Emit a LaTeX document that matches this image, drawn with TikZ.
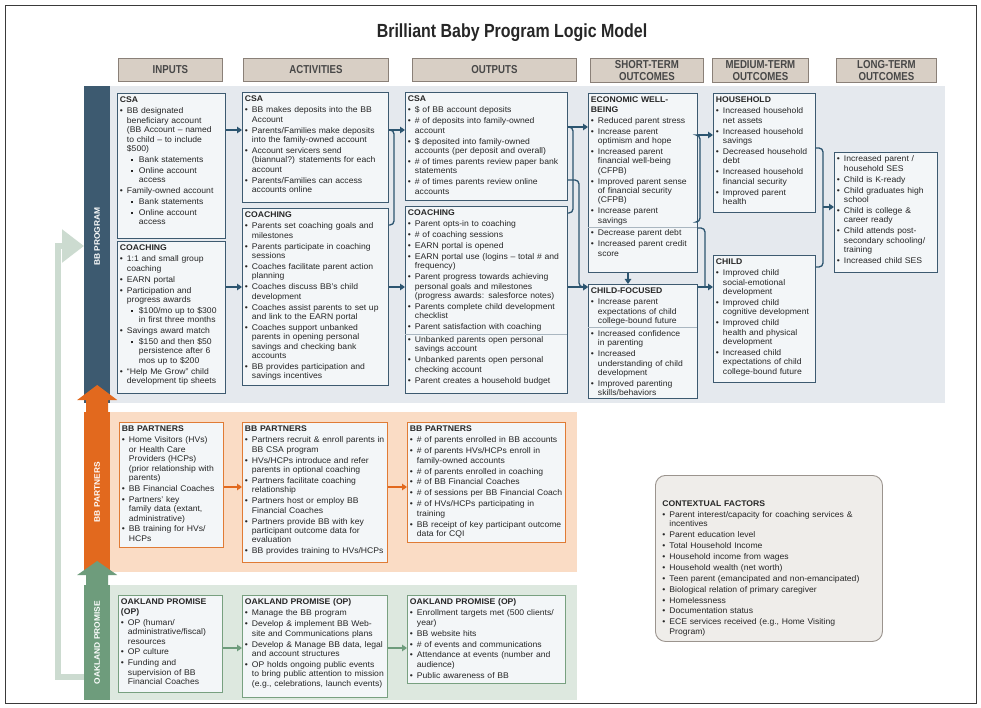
\documentclass[tikz,border=0pt]{standalone}
\usepackage{fontspec}
\setmainfont{Liberation Sans}[FakeStretch=1.05]
\newfontfamily\condfont{Liberation Sans}[FakeStretch=0.84]
\usetikzlibrary{arrows.meta}

\definecolor{ink}{HTML}{262626}
\definecolor{progdark}{HTML}{3D5A70}
\definecolor{progback}{HTML}{E5E9EE}
\definecolor{boxfill}{HTML}{F3F6F8}
\definecolor{connline}{HTML}{2C5570}
\definecolor{divline}{HTML}{A9B6C0}
\definecolor{partnerorange}{HTML}{E2691E}
\definecolor{partnerback}{HTML}{FADCC5}
\definecolor{partnerline}{HTML}{E07B35}
\definecolor{promisegreen}{HTML}{6E9C7C}
\definecolor{promiseback}{HTML}{DDE8DF}
\definecolor{promiseline}{HTML}{78A080}
\definecolor{headfill}{HTML}{D8CFC5}
\definecolor{headline}{HTML}{8A8078}
\definecolor{ctxfill}{HTML}{EFEDEA}
\definecolor{ctxline}{HTML}{9B948E}
\definecolor{palegreen}{HTML}{CCDBD0}
\definecolor{framegray}{HTML}{3A3A3A}

\newcommand\lb{\newline}
\newcommand\itm{\par\hangindent=7pt\hangafter=1\noindent\makebox[7pt][l]{\textbullet}}
\newcommand\itmf{\leavevmode\hangindent=7pt\hangafter=1\makebox[7pt][l]{\textbullet}}
\newcommand\sub{\par\hangindent=19pt\hangafter=1\noindent\hspace*{11pt}\makebox[8pt][l]{\raisebox{1.2pt}{\rule{2.4pt}{2.4pt}}}}
\newcommand\divl{\par\vspace{2pt}\nointerlineskip\moveleft2.5pt\hbox{\color{divline}\rule{\dimexpr\linewidth+5pt\relax}{0.6pt}}\prevdepth=-1000pt\vspace{1pt}}

\begin{document}
\begin{tikzpicture}[x=1pt,y=-1pt]
  \tikzstyle{every node}=[text=ink]
  \tikzstyle{lmbox}=[line width=0.9pt, fill=boxfill, anchor=north west, inner xsep=2.5pt, inner ysep=3pt,
    text height=6.5pt, font=\fontsize{8.2}{9.4}\selectfont,
    execute at begin node={\raggedright\setlength{\parskip}{1.5pt}}]
  \tikzstyle{prog}=[lmbox, draw=progdark]
  \tikzstyle{partner}=[lmbox, draw=partnerline]
  \tikzstyle{promise}=[lmbox, draw=promiseline]
  \tikzstyle{headbox}=[draw=headline, fill=headfill, line width=0.8pt, anchor=north west, inner sep=0pt,
    align=center, text=ink!85, font=\condfont\bfseries\fontsize{11.5}{11.5}\selectfont]
  \tikzstyle{bandbar}=[anchor=north west, inner sep=0pt, minimum width=26pt]
  \tikzstyle{bartext}=[rotate=90, text=white, font=\bfseries\fontsize{8}{9}\selectfont]
  \tikzstyle{conn}=[draw=connline, line width=1.3pt, -{Triangle[length=5pt,width=6.5pt]}]
  \tikzstyle{brk}=[draw=connline, line width=1.3pt, rounded corners=4pt]
  \tikzstyle{pconn}=[draw=partnerorange, line width=1.5pt, -{Triangle[length=5pt,width=6.5pt]}]
  \tikzstyle{gconn}=[draw=promisegreen, line width=1.5pt, -{Triangle[length=5pt,width=6.5pt]}]

  \useasboundingbox (0,0) rectangle (981,708);
  \fill[white] (0,0) rectangle (981,708);
  \draw[framegray, line width=0.8pt] (5,5) rectangle (976,703);

  \node[font=\condfont\bfseries\fontsize{19}{21}\selectfont] (title) at (512,33) {Brilliant Baby Program Logic Model};

  % column heads
  \node[headbox, minimum width=104pt, minimum height=23pt] (hin) at (118,58) {INPUTS};
  \node[headbox, minimum width=145pt, minimum height=23pt] (hact) at (243,58) {ACTIVITIES};
  \node[headbox, minimum width=164pt, minimum height=23pt] (hout) at (412,58) {OUTPUTS};
  \node[headbox, minimum width=113pt, minimum height=24pt] (hshort) at (590,58) {SHORT-TERM\\OUTCOMES};
  \node[headbox, minimum width=96pt, minimum height=24pt] (hmed) at (712,58) {MEDIUM-TERM\\OUTCOMES};
  \node[headbox, minimum width=100pt, minimum height=24pt] (hlong) at (836,58) {LONG-TERM\\OUTCOMES};

  % bands
  \fill[progback] (84,86) rectangle (945,403);
  \fill[partnerback] (84,412) rectangle (577,572);
  \fill[promiseback] (84,585) rectangle (577,700);
  \node[bandbar, fill=progdark, minimum height=317pt] (progbar) at (84,86) {};
  \node[bandbar, fill=partnerorange, minimum height=160pt] (partnerbar) at (84,412) {};
  \node[bandbar, fill=promisegreen, minimum height=115pt] (promisebar) at (84,585) {};
  \draw[palegreen, line width=6pt, -{Triangle[length=22pt,width=32pt]}] (promisebar.west |- 0,677) -- (58,677) -- (58,246) -- (progbar.west |- 0,246);
  \fill[partnerorange] (partnerbar.north) ++(-11,0) -- ++(0,-12) -- ++(-9,0) -- ++(20,-15) -- ++(20,15) -- ++(-9,0) -- ++(0,12) -- cycle;
  \fill[promisegreen] (promisebar.north) ++(-11,0) -- ++(0,-10) -- ++(-9,0) -- ++(20,-14) -- ++(20,14) -- ++(-9,0) -- ++(0,10) -- cycle;
  \node[bartext] (proglab) at ([yshift=8pt]progbar.center) {BB PROGRAM};
  \node[bartext] (partnerlab) at (partnerbar.center) {BB PARTNERS};
  \node[bartext] (promiselab) at (promisebar.center) {OAKLAND PROMISE};

  % BB program
  \node[prog, text width=103pt, text depth=132.5pt] (incsa) at (117,93) {\textbf{CSA}
    \itm BB designated\lb beneficiary account\lb (BB Account – named\lb to child – to include\lb \$500)
    \sub Bank statements
    \sub Online account\lb access
    \itm Family-owned account
    \sub Bank statements
    \sub Online account\lb access\par};
  \node[prog, text width=103pt, text depth=139.5pt] (incoach) at (117,241) {\textbf{COACHING}
    \itm 1:1 and small group\lb coaching
    \itm EARN portal
    \itm Participation and\lb progress awards
    \sub \$100/mo up to \$300\lb in first three months
    \itm Savings award match
    \sub \$150 and then \$50\lb persistence after 6\lb mos up to \$200
    \itm “Help Me Grow” child\lb development tip sheets\par};
  \node[prog, text width=141pt, text depth=97.5pt] (actcsa) at (242,92) {\textbf{CSA}
    \itm BB makes deposits into the BB\lb Account
    \itm Parents/Families make deposits\lb into the family-owned account
    \itm Account servicers send\lb (biannual?) statements for each\lb account
    \itm Parents/Families can access\lb accounts online\par};
  \node[prog, text width=141pt, text depth=164.5pt] (actcoach) at (242,208) {\textbf{COACHING}
    \itm Parents set coaching goals and\lb milestones
    \itm Parents participate in coaching\lb sessions
    \itm Coaches facilitate parent action\lb planning
    \itm Coaches discuss BB’s child\lb development
    \itm Coaches assist parents to set up\lb and link to the EARN portal
    \itm Coaches support unbanked\lb parents in opening personal\lb savings and checking bank\lb accounts
    \itm BB provides participation and\lb savings incentives\par};
  \node[prog, text width=157pt, text depth=95.5pt] (outcsa) at (405,92) {\textbf{CSA}
    \itm \$ of BB account deposits
    \itm \# of deposits into family-owned\lb account
    \itm \$ deposited into family-owned\lb accounts (per deposit and overall)
    \itm \# of times parents review paper bank\lb statements
    \itm \# of times parents review online\lb accounts\par};
  \node[prog, text width=157pt, text depth=174.5pt] (outcoach) at (405,206) {\textbf{COACHING}
    \itm Parent opts-in to coaching
    \itm \# of coaching sessions
    \itm EARN portal is opened
    \itm EARN portal use (logins – total \# and\lb frequency)
    \itm Parent progress towards achieving\lb personal goals and milestones\lb (progress awards: salesforce notes)
    \itm Parents complete child development\lb checklist
    \itm Parent satisfaction with coaching
    \divl
    \itm Unbanked parents open personal\lb savings account
    \itm Unbanked parents open personal\lb checking account
    \itm Parent creates a household budget\par};
  \node[prog, text width=104pt, text depth=166.5pt] (econ) at (588,93) {\textbf{ECONOMIC WELL-\lb BEING}
    \itm Reduced parent stress
    \itm Increase parent\lb optimism and hope
    \itm Increased parent\lb financial well-being\lb (CFPB)
    \itm Improved parent sense\lb of financial security\lb (CFPB)
    \itm Increase parent\lb savings
    \divl
    \itm Decrease parent debt
    \itm Increased parent credit\lb score\par};
  \node[prog, text width=104pt, text depth=101.5pt] (childfoc) at (588,284) {\textbf{CHILD-FOCUSED}
    \itm Increase parent\lb expectations of child\lb college-bound future
    \divl
    \itm Increased confidence\lb in parenting
    \itm Increased\lb understanding of child\lb development
    \itm Improved parenting\lb skills/behaviors\par};
  \node[prog, text width=97pt, text depth=106.5pt] (household) at (713,93) {\textbf{HOUSEHOLD}
    \itm Increased household\lb net assets
    \itm Increased household\lb savings
    \itm Decreased household\lb debt
    \itm Increased household\lb financial security
    \itm Improved parent\lb health\par};
  \node[prog, text width=97pt, text depth=114.5pt] (childmed) at (713,255) {\textbf{CHILD}
    \itm Improved child\lb social-emotional\lb development
    \itm Improved child\lb cognitive development
    \itm Improved child\lb health and physical\lb development
    \itm Increased child\lb expectations of child\lb college-bound future\par};
  \node[prog, text width=98pt, text depth=107.5pt] (longterm) at (834,152) {\itmf Increased parent /\lb household SES
    \itm Child is K-ready
    \itm Child graduates high\lb school
    \itm Child is college \&\lb career ready
    \itm Child attends post-\lb secondary schooling/\lb training
    \itm Increased child SES\par};

  % BB partners
  \node[partner, text width=99pt, text depth=112.5pt] (partnerin) at (119,422) {\textbf{BB PARTNERS}
    \itm Home Visitors (HVs)\lb or Health Care\lb Providers (HCPs)\lb (prior relationship with\lb parents)
    \itm BB Financial Coaches
    \itm Partners’ key\lb family data (extant,\lb administrative)
    \itm BB training for HVs/\lb HCPs\par};
  \node[partner, text width=140pt, text depth=127.5pt] (partneract) at (242,422) {\textbf{BB PARTNERS}
    \itm Partners recruit \& enroll parents in\lb BB CSA program
    \itm HVs/HCPs introduce and refer\lb parents in optional coaching
    \itm Partners facilitate coaching\lb relationship
    \itm Partners host or employ BB\lb Financial Coaches
    \itm Partners provide BB with key\lb participant outcome data for\lb evaluation
    \itm BB provides training to HVs/HCPs\par};
  \node[partner, text width=153pt, text depth=107.5pt] (partnerout) at (407,422) {\textbf{BB PARTNERS}
    \itm \# of parents enrolled in BB accounts
    \itm \# of parents HVs/HCPs enroll in\lb family-owned accounts
    \itm \# of parents enrolled in coaching
    \itm \# of BB Financial Coaches
    \itm \# of sessions per BB Financial Coach
    \itm \# of HVs/HCPs participating in\lb training
    \itm BB receipt of key participant outcome\lb data for CQI\par};

  % Oakland Promise
  \node[promise, text width=99pt, text depth=84.5pt] (promisein) at (118,595) {\textbf{OAKLAND PROMISE\lb (OP)}
    \itm OP (human/\lb administrative/fiscal)\lb resources
    \itm OP culture
    \itm Funding and\lb supervision of BB\lb Financial Coaches\par};
  \node[promise, text width=140pt, text depth=89.5pt] (promiseact) at (242,595) {\textbf{OAKLAND PROMISE (OP)}
    \itm Manage the BB program
    \itm Develop \& implement BB Web-\lb site and Communications plans
    \itm Develop \& Manage BB data, legal\lb and account structures
    \itm OP holds ongoing public events\lb to bring public attention to mission\lb (e.g., celebrations, launch events)\par};
  \node[promise, text width=153pt, text depth=75.5pt] (promiseout) at (407,595) {\textbf{OAKLAND PROMISE (OP)}
    \itm Enrollment targets met (500 clients/\lb year)
    \itm BB website hits
    \itm \# of events and communications
    \itm Attendance at events (number and\lb audience)
    \itm Public awareness of BB\par};

  % contextual factors
  \node[lmbox, draw=ctxline, fill=ctxfill, rounded corners=10pt, inner xsep=7pt, text height=28pt,
    text width=213pt, text depth=132pt] (context) at (655,475) {\textbf{CONTEXTUAL FACTORS}
    \itm Parent interest/capacity for coaching services \&\lb incentives
    \itm Parent education level
    \itm Total Household Income
    \itm Household income from wages
    \itm Household wealth (net worth)
    \itm Teen parent (emancipated and non-emancipated)
    \itm Biological relation of primary caregiver
    \itm Homelessness
    \itm Documentation status
    \itm ECE services received (e.g., Home Visiting\lb Program)\par};

  % connectors
  \foreach \from/\to/\y in {incsa/actcsa/130, incoach/actcoach/287, actcsa/outcsa/130,
      actcoach/outcoach/287, outcsa/econ/127, outcoach/childfoc/287, econ/household/135, childfoc/childmed/287}
    \draw[conn] (\from.east |- 0,\y) -- (\to.west |- 0,\y);
  \coordinate (actjoin) at (394,180);
  \coordinate (outjoin) at (573,170);
  \coordinate (outdrop) at (579,240);
  \coordinate (econjoin) at (700,180);
  \coordinate (econdrop) at (705,287);
  \coordinate (medjoin) at (823,207);
  \draw[brk] (actcsa.east |- 0,130) -| (actjoin) |- (actcoach.east |- 0,225);
  \draw[brk] (outcsa.east |- 0,127) -| (outjoin) |- (outcoach.east |- 0,213);
  \draw[conn, rounded corners=4pt] (outcsa.east |- 0,180) -| (outdrop) |- (childfoc.west |- 0,287);
  \draw[conn] (econ.south -| 628,0) -- (childfoc.north -| 628,0);
  \draw[brk] (econ.east |- 0,135) -| (econjoin) |- (econ.east |- 0,222);
  \draw[brk] (econ.east |- 0,228) -| (econdrop);
  \draw[brk] (household.east |- 0,148) -| (medjoin) |- (childmed.east |- 0,267);
  \draw[conn] (medjoin) -- (longterm.west |- medjoin);
  \foreach \from/\to in {partnerin/partneract, partneract/partnerout}
    \draw[pconn] (\from.east |- 0,487) -- (\to.west |- 0,487);
  \foreach \from/\to in {promisein/promiseact, promiseact/promiseout}
    \draw[gconn] (\from.east |- 0,648) -- (\to.west |- 0,648);
\end{tikzpicture}
\end{document}
